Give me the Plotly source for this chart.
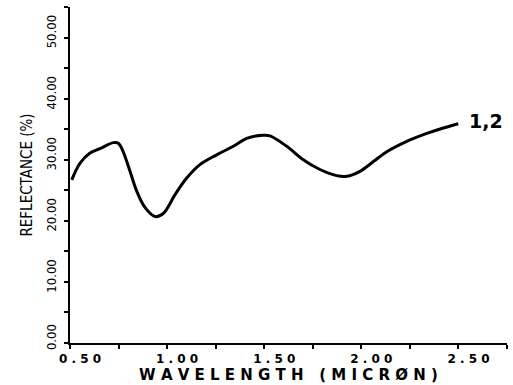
import plotly.graph_objects as go

# Data
wavelength = [0.509, 0.551, 0.603, 0.654, 0.723, 0.749, 0.774, 0.809, 0.843, 0.886,
              0.938, 0.980, 1.041, 1.101, 1.169, 1.255, 1.341, 1.410, 1.495, 1.530,
              1.616, 1.701, 1.787, 1.873, 1.925, 1.993, 2.062, 2.131, 2.234, 2.337,
              2.422, 2.499]
reflectance = [26.7, 29.4, 31.1, 31.8, 32.8, 32.7, 31.3, 28.1, 24.9, 22.2,
               20.7, 21.2, 24.3, 27.0, 29.2, 30.8, 32.2, 33.5, 34.0, 33.9,
               32.2, 30.0, 28.4, 27.4, 27.3, 28.1, 29.7, 31.3, 33.0, 34.3,
               35.2, 35.9]
curve_label = "1,2"

x_tick_vals = [0.5, 1.0, 1.5, 2.0, 2.5]
x_tick_text = ["0 . 5 0", "1 . 0 0", "1 . 5 0", "2 . 0 0", "2 . 5 0"]
y_tick_vals = [0, 10, 20, 30, 40, 50]
y_tick_text = ["0.00", "10.00", "20.00", "30.00", "40.00", "50.00"]

x_title = "W A V E L E N G T H   ( M I C R Ø N )"
y_title = "REFLECTANCE (%)"

fig = go.Figure()
fig.add_trace(go.Scatter(
    x=wavelength, y=reflectance, mode="lines",
    line=dict(color="black", width=3, shape="spline", smoothing=1.0),
    showlegend=False, hoverinfo="skip",
))

fig.add_annotation(
    x=wavelength[-1], y=reflectance[-1], text="<b>" + curve_label + "</b>",
    showarrow=False, xanchor="left", yanchor="middle", xshift=9, yshift=3,
    font=dict(family="DejaVu Sans", size=19, color="black"),
)

fig.update_xaxes(
    range=[0.5, 2.75], tickvals=x_tick_vals, ticktext=x_tick_text,
    ticks="outside", ticklen=4, tickwidth=1.5, tickcolor="black",
    minor=dict(dtick=0.25, tick0=0.5, ticks="outside", ticklen=4, tickwidth=1.5, tickcolor="black"),
    showline=True, linecolor="black", linewidth=2, showgrid=False, zeroline=False,
    tickfont=dict(family="DejaVu Sans", size=12, color="black", weight="bold"),
    ticklabelshift=10, ticklabelstandoff=0,
    title=dict(text=x_title, standoff=2,
               font=dict(family="DejaVu Sans", size=15, color="black", weight="bold")),
)
fig.update_yaxes(
    range=[0, 55], tickvals=y_tick_vals, ticktext=y_tick_text, tickangle=-90,
    ticks="outside", ticklen=4, tickwidth=1.5, tickcolor="black",
    minor=dict(dtick=5, tick0=0, ticks="outside", ticklen=4, tickwidth=1.5, tickcolor="black"),
    showline=True, linecolor="black", linewidth=2, showgrid=False, zeroline=False,
    tickfont=dict(family="Liberation Sans Narrow, DejaVu Sans Condensed", size=13, color="black"),
    ticklabelshift=-4, ticklabelstandoff=3,
    title=dict(text=y_title, standoff=8,
               font=dict(family="DejaVu Sans Condensed", size=15, color="black")),
)

fig.update_layout(
    width=513, height=385,
    margin=dict(l=70, r=6, t=7, b=38),
    paper_bgcolor="white", plot_bgcolor="white",
)

fig.write_html("out.html")
